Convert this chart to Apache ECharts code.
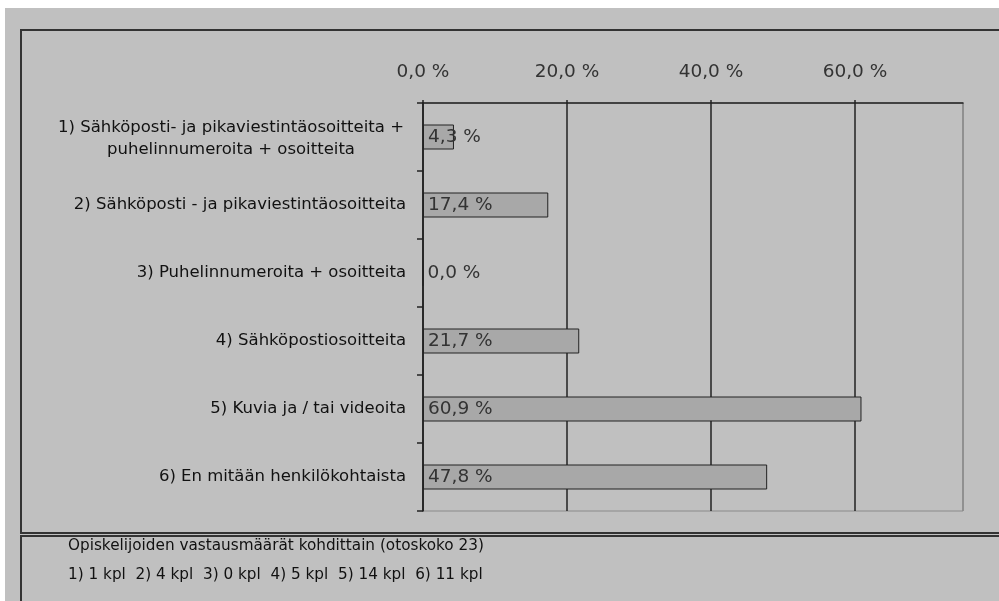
<!DOCTYPE html>
<html>
<head>
<meta charset="utf-8">
<script src="https://cdn.jsdelivr.net/npm/echarts@6/dist/echarts.min.js"></script>
<style>
  html, body { margin: 0; padding: 0; background: #fff; }
  #chart { width: 999px; height: 601px; }
</style>
</head>
<body>
<div id="chart"></div>
<script>
// kohdat ja prosenttiosuudet (otoskoko 23)
const categories = [
  '1) Sähköposti- ja pikaviestintäosoitteita +\npuhelinnumeroita + osoitteita',
  '2) Sähköposti - ja pikaviestintäosoitteita',
  '3) Puhelinnumeroita + osoitteita',
  '4) Sähköpostiosoitteita',
  '5) Kuvia ja / tai videoita',
  '6) En mitään henkilökohtaista'
];
const percents = [4.3, 17.4, 0.0, 21.7, 60.9, 47.8];
const counts = [1, 4, 0, 5, 14, 11];
const sampleSize = 23;
const footerTitle = 'Opiskelijoiden vastausmäärät kohdittain (otoskoko ' + sampleSize + ')';
const footerCounts = counts.map((c, i) => (i + 1) + ') ' + c + ' kpl').join('  ');

const FONT = 'DejaVu Sans';
const fmt = v => v.toFixed(1).replace('.', ',') + ' %';

const chart = echarts.init(document.getElementById('chart'));

const option = {
  backgroundColor: '#c0c0c0',
  animation: false,
  textStyle: { fontFamily: FONT },
  grid: {
    left: 423,
    right: 36,
    top: 103,
    bottom: 90,
    show: true,
    backgroundColor: 'transparent',
    borderColor: '#8a8a8a',
    borderWidth: 1
  },
  xAxis: {
    type: 'value',
    position: 'top',
    min: 0,
    max: 75,
    interval: 20,
    axisLine: { show: true, lineStyle: { color: '#222', width: 1.5 } },
    axisTick: { show: true, length: 3, lineStyle: { color: '#222', width: 1.5 } },
    axisLabel: {
      showMaxLabel: false,
      margin: 21,
      color: '#333',
      fontSize: 18.5,
      fontFamily: FONT,
      formatter: fmt
    },
    splitLine: {
      show: true,
      lineStyle: { color: ['#222', '#222', '#222', '#222', '#8a8a8a'], width: 1.5 }
    }
  },
  yAxis: {
    type: 'category',
    inverse: true,
    data: categories,
    axisLine: { show: true, lineStyle: { color: '#222', width: 1.5 } },
    axisTick: { show: true, length: 6, lineStyle: { color: '#222', width: 1.5 } },
    axisLabel: {
      margin: 17,
      color: '#111',
      fontSize: 16.5,
      fontFamily: FONT,
      lineHeight: 22,
      formatter: (v, i) => {
        if (v.indexOf('\n') < 0) return v;
        return v.split('\n').map(s => '{c|' + s + '}').join('\n');
      },
      rich: {
        c: { width: 350, align: 'center', fontSize: 16.5, color: '#111', fontFamily: FONT, lineHeight: 22, padding: [4, 0, 0, 0] }
      }
    }
  },
  series: [{
    type: 'bar',
    data: percents,
    barWidth: 25,
    itemStyle: { color: '#a8a8a8', borderColor: '#222', borderWidth: 1 },
    label: {
      show: true,
      position: 'insideLeft',
      distance: 5,
      color: '#333',
      fontSize: 18.5,
      fontFamily: FONT,
      formatter: p => fmt(p.value)
    }
  }],
  graphic: [
    { type: 'rect', left: 0, top: 0, shape: { width: 999, height: 8 }, style: { fill: '#fff' }, z: -1 },
    { type: 'rect', left: 0, top: 0, shape: { width: 5, height: 601 }, style: { fill: '#fff' }, z: -1 },
    {
      type: 'rect', left: 20, top: 29,
      shape: { width: 1010, height: 503 },
      style: { fill: 'transparent', stroke: '#333', lineWidth: 2 }, z: -1
    },
    {
      type: 'rect', left: 20, top: 535,
      shape: { width: 1010, height: 100 },
      style: { fill: 'transparent', stroke: '#333', lineWidth: 2 }, z: -1
    },
    {
      type: 'text', left: 68, top: 539,
      style: { text: footerTitle, font: '15.25px "' + FONT + '"', fill: '#111' }
    },
    {
      type: 'text', left: 68, top: 568,
      style: { text: footerCounts, font: '15.25px "' + FONT + '"', fill: '#111' }
    }
  ]
};

chart.setOption(option);
</script>
</body>
</html>
